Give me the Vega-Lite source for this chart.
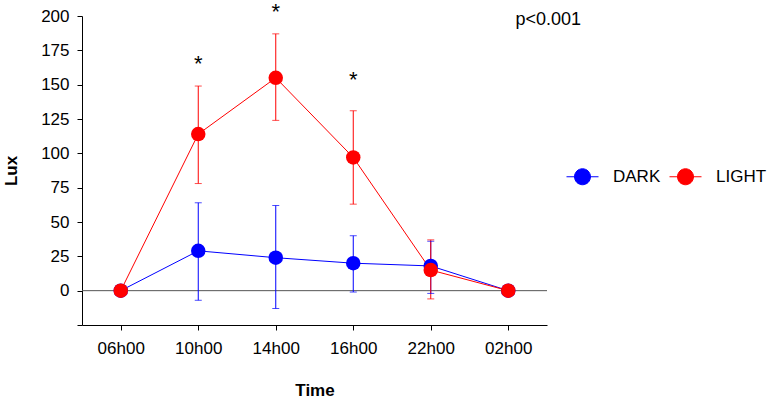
{
  "$schema": "https://vega.github.io/schema/vega-lite/v6.json",
  "width": 465,
  "height": 309,
  "autosize": {"type": "none"},
  "padding": {"left": 82, "top": 16, "right": 221, "bottom": 77},
  "config": {
    "font": "Liberation Sans",
    "view": {"stroke": null},
    "axis": {"grid": false, "domainColor": "#000", "tickColor": "#000", "labelColor": "#000", "titleColor": "#000", "labelFontSize": 17, "titleFontSize": 17, "titleFontWeight": "bold", "tickSize": 5, "labelOverlap": false, "labelFont": "Liberation Sans", "titleFont": "Liberation Sans"}
  },
  "datasets": {
    "series": [
      {"time": "06h00", "group": "DARK", "mean": 0, "lo": 0, "hi": 0},
      {"time": "10h00", "group": "DARK", "mean": 29, "lo": -7, "hi": 64},
      {"time": "14h00", "group": "DARK", "mean": 24, "lo": -13, "hi": 62},
      {"time": "16h00", "group": "DARK", "mean": 20, "lo": -1, "hi": 40},
      {"time": "22h00", "group": "DARK", "mean": 18, "lo": -2, "hi": 36},
      {"time": "02h00", "group": "DARK", "mean": 0, "lo": 0, "hi": 0},
      {"time": "06h00", "group": "LIGHT", "mean": 0, "lo": 0, "hi": 0},
      {"time": "10h00", "group": "LIGHT", "mean": 114, "lo": 78, "hi": 149},
      {"time": "14h00", "group": "LIGHT", "mean": 155, "lo": 124, "hi": 187},
      {"time": "16h00", "group": "LIGHT", "mean": 97, "lo": 63, "hi": 131},
      {"time": "22h00", "group": "LIGHT", "mean": 15, "lo": -6, "hi": 37},
      {"time": "02h00", "group": "LIGHT", "mean": 0, "lo": 0, "hi": 0}
    ],
    "stars": [
      {"time": "10h00", "y": 160, "label": "*"},
      {"time": "14h00", "y": 198, "label": "*"},
      {"time": "16h00", "y": 148, "label": "*"}
    ],
    "note": [
      {"time": "02h00", "y": 197, "label": "p<0.001"}
    ],
    "zero": [
      {"y": 0}
    ]
  },
  "encoding": {
    "x": {
      "field": "time", "type": "ordinal",
      "sort": ["06h00", "10h00", "14h00", "16h00", "22h00", "02h00"],
      "scale": {"type": "point", "padding": 0.5},
      "axis": {"title": "Time", "labelAngle": 0, "labelPadding": 10, "titlePadding": 26}
    },
    "y": {
      "field": "mean", "type": "quantitative",
      "scale": {"domain": [-25, 200], "nice": false, "zero": false},
      "axis": {"title": "Lux", "values": [-25, 0, 25, 50, 75, 100, 125, 150, 175, 200], "labelExpr": "datum.value < 0 ? '' : datum.label", "labelPadding": 8, "titlePadding": 20}
    },
    "color": {
      "field": "group", "type": "nominal",
      "scale": {"domain": ["DARK", "LIGHT"], "range": ["#0000FF", "#FF0000"]},
      "legend": {
        "title": null, "orient": "none", "direction": "horizontal",
        "legendX": 484, "legendY": 144,
        "symbolType": "M-1,0L1,0M-0.5,0A0.5,0.5,0,1,1,0.5,0A0.5,0.5,0,1,1,-0.5,0Z",
        "symbolSize": 1024, "symbolStrokeWidth": 1,
        "labelFontSize": 17, "labelColor": "#000", "labelOffset": 14, "columnPadding": 6,
        "encode": {"symbols": {"update": {"stroke": {"scale": "color", "field": "value"}, "fill": {"scale": "color", "field": "value"}, "opacity": {"value": 1}, "fillOpacity": {"value": 1}, "strokeOpacity": {"value": 1}}}}
      }
    }
  },
  "layer": [
    {
      "data": {"name": "zero"},
      "mark": {"type": "rule", "color": "#555", "strokeWidth": 1},
      "encoding": {"x": null, "color": null, "y": {"field": "y", "type": "quantitative"}}
    },
    {
      "data": {"name": "series"},
      "mark": {"type": "line", "strokeWidth": 1}
    },
    {
      "data": {"name": "series"},
      "mark": {"type": "rule", "strokeWidth": 1},
      "encoding": {
        "y": {"field": "lo", "type": "quantitative"},
        "y2": {"field": "hi"}
      }
    },
    {
      "data": {"name": "series"},
      "mark": {"type": "tick", "size": 7, "thickness": 1, "orient": "horizontal"},
      "encoding": {
        "y": {"field": "lo", "type": "quantitative"}
      }
    },
    {
      "data": {"name": "series"},
      "mark": {"type": "tick", "size": 7, "thickness": 1, "orient": "horizontal"},
      "encoding": {
        "y": {"field": "hi", "type": "quantitative"}
      }
    },
    {
      "data": {"name": "series"},
      "mark": {"type": "point", "filled": true, "opacity": 1, "size": 210}
    },
    {
      "data": {"name": "stars"},
      "mark": {"type": "text", "fontSize": 22, "baseline": "alphabetic", "align": "center", "color": "#000"},
      "encoding": {
        "color": null,
        "y": {"field": "y", "type": "quantitative"},
        "text": {"field": "label"}
      }
    },
    {
      "data": {"name": "note"},
      "mark": {"type": "text", "fontSize": 18, "baseline": "middle", "align": "center", "dx": 40, "color": "#000"},
      "encoding": {
        "color": null,
        "y": {"field": "y", "type": "quantitative"},
        "text": {"field": "label"}
      }
    }
  ]
}
